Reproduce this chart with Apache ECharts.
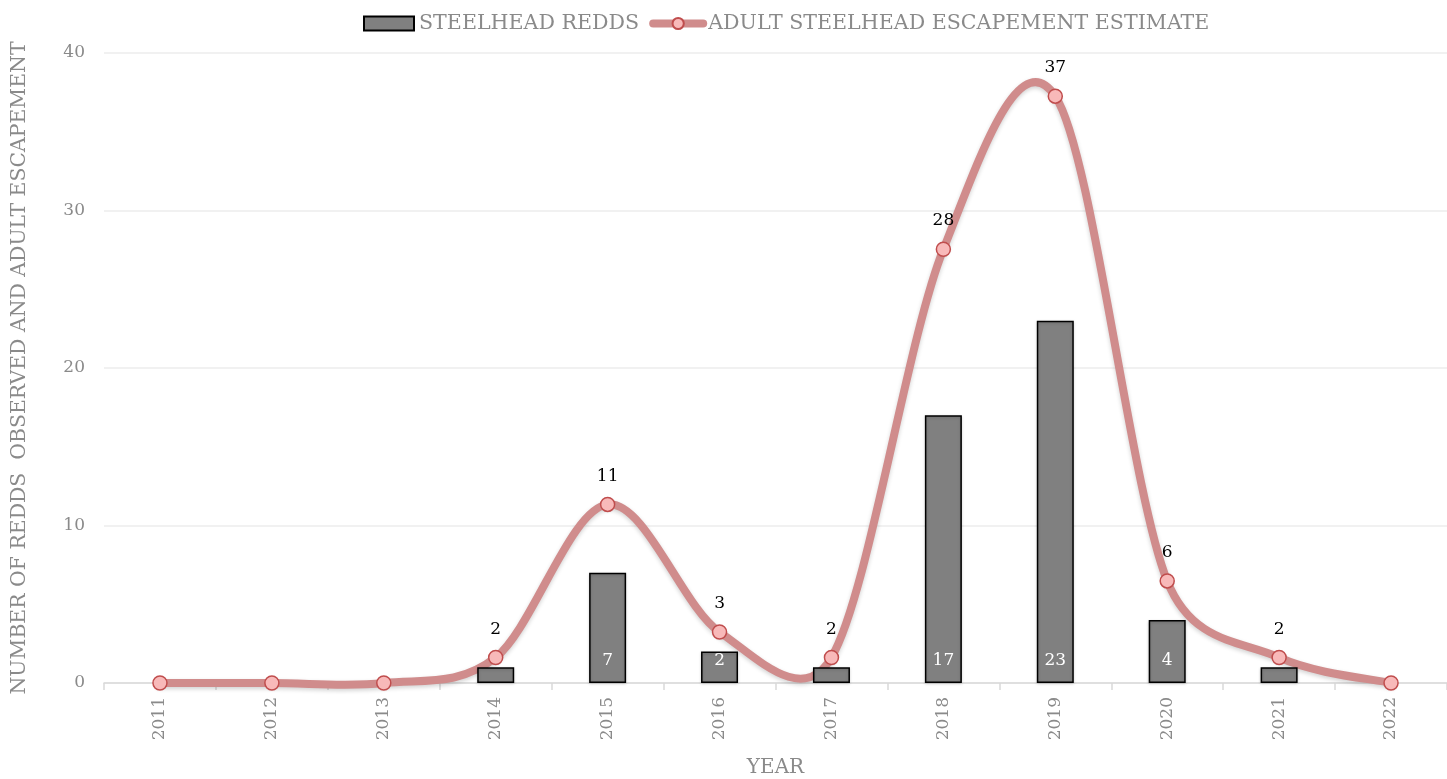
<!DOCTYPE html>
<html>
<head>
<meta charset="utf-8">
<script src="https://cdn.jsdelivr.net/npm/echarts@6/dist/echarts.min.js"></script>
<style>
html,body{margin:0;padding:0;background:#fff;}
#chart{width:1447px;height:779px;}
</style>
</head>
<body>
<div id="chart"></div>
<script>
const years = ['2011','2012','2013','2014','2015','2016','2017','2018','2019','2020','2021','2022'];
const redds = [0, 0, 0, 1, 7, 2, 1, 17, 23, 4, 1, 0];
const escapement = [0, 0, 0, 1.62, 11.34, 3.24, 1.62, 27.54, 37.26, 6.48, 1.62, 0];
const yTicks = [0, 10, 20, 30, 40];

const FONT = 'DejaVu Serif';
const LINE_COLOR = '#d08c8c';
const chart = echarts.init(document.getElementById('chart'));

// Spreadsheet-style smoothed line through the escapement points; positions come from the axes
function renderCurve(params, api) {
  const i = params.dataIndex;
  const n = escapement.length;
  if (i >= n - 1) return null;
  const pt = k => api.coord([k, escapement[k]]);
  const p1 = pt(i), p2 = pt(i + 1);
  const p0 = i > 0 ? pt(i - 1) : p1;
  const p3 = i + 2 < n ? pt(i + 2) : p2;
  const dist = (a, b) => Math.hypot(a[0] - b[0], a[1] - b[1]);
  const d02 = dist(p0, p2), d12 = dist(p1, p2), d13 = dist(p1, p3);
  let f0 = 1 / 6, f1 = 1 / 6;
  if (d02 / 6 >= d12 / 2 && d02 > 0) f0 = d12 / d02 / 2;
  if (d13 / 6 >= d12 / 2 && d13 > 0) f1 = d12 / d13 / 2;
  return {
    type: 'bezierCurve',
    shape: {
      x1: p1[0], y1: p1[1],
      cpx1: p1[0] + (p2[0] - p0[0]) * f0, cpy1: p1[1] + (p2[1] - p0[1]) * f0,
      cpx2: p2[0] - (p3[0] - p1[0]) * f1, cpy2: p2[1] - (p3[1] - p1[1]) * f1,
      x2: p2[0], y2: p2[1]
    },
    style: {
      stroke: LINE_COLOR,
      lineWidth: 8,
      fill: null,
      lineCap: 'round',
      shadowColor: 'rgba(0,0,0,0.18)',
      shadowBlur: 4,
      shadowOffsetY: 2
    },
    silent: true
  };
}

chart.setOption({
  animation: false,
  textStyle: { fontFamily: FONT },
  legend: {
    top: 8,
    left: 358,
    itemGap: 10,
    itemWidth: 50,
    itemHeight: 14,
    textStyle: { fontFamily: FONT, fontSize: 20.6, color: '#8a8a8a' },
    data: [
      { name: 'STEELHEAD REDDS', icon: 'rect' },
      {
        name: 'ADULT STEELHEAD ESCAPEMENT ESTIMATE',
        lineStyle: { color: LINE_COLOR, width: 8, opacity: 1, cap: 'round' }
      }
    ]
  },
  grid: { left: 104, right: 0, top: 53, bottom: 96, outerBoundsMode: 'none' },
  xAxis: {
    type: 'category',
    data: years,
    name: 'YEAR',
    nameLocation: 'middle',
    nameGap: 75,
    nameTextStyle: { fontFamily: FONT, fontSize: 20, color: '#8a8a8a' },
    axisLine: { lineStyle: { color: '#d9d9d9', width: 1.5 } },
    axisTick: { show: true, length: 7, lineStyle: { color: '#d9d9d9', width: 1.5 } },
    axisLabel: { rotate: 90, fontFamily: FONT, fontSize: 17, color: '#8a8a8a', margin: 14 }
  },
  yAxis: {
    type: 'value',
    min: yTicks[0],
    max: yTicks[yTicks.length - 1],
    interval: 10,
    name: 'NUMBER OF REDDS  OBSERVED AND ADULT ESCAPEMENT',
    nameLocation: 'middle',
    nameGap: 74,
    nameTextStyle: { fontFamily: FONT, fontSize: 20.4, color: '#8a8a8a' },
    axisLine: { show: false },
    axisTick: { show: false },
    splitLine: { lineStyle: { color: '#ececec', width: 1.5 } },
    axisLabel: { fontFamily: FONT, fontSize: 17, color: '#8a8a8a', margin: 19 }
  },
  series: [
    {
      name: 'STEELHEAD REDDS',
      type: 'bar',
      data: redds.map(v => (v === 0 ? '-' : v)),
      barWidth: 37,
      itemStyle: {
        color: '#808080',
        borderColor: '#000',
        borderWidth: 1.5,
        shadowColor: 'rgba(0,0,0,0.2)',
        shadowBlur: 3,
        shadowOffsetY: 1
      },
      label: {
        show: true,
        position: 'insideBottom',
        distance: 14,
        color: '#fff',
        fontFamily: FONT,
        fontSize: 17,
        formatter: p => (p.value ? p.value : '')
      }
    },
    {
      name: 'ADULT STEELHEAD ESCAPEMENT ESTIMATE_curve',
      type: 'custom',
      data: escapement.map((v, i) => [i, v]),
      renderItem: renderCurve,
      z: 2,
      silent: true,
      tooltip: { show: false }
    },
    {
      name: 'ADULT STEELHEAD ESCAPEMENT ESTIMATE',
      type: 'line',
      data: escapement,
      symbol: 'circle',
      symbolSize: 14,
      lineStyle: { color: LINE_COLOR, width: 8, opacity: 0 },
      itemStyle: {
        color: '#f8b9b9',
        borderColor: '#c04d4d',
        borderWidth: 1.5
      },
      label: {
        show: true,
        position: 'top',
        distance: 12,
        color: '#000',
        fontFamily: FONT,
        fontSize: 17,
        formatter: p => (p.value ? Math.round(p.value) : '')
      },
      z: 3
    }
  ]
});
</script>
</body>
</html>
